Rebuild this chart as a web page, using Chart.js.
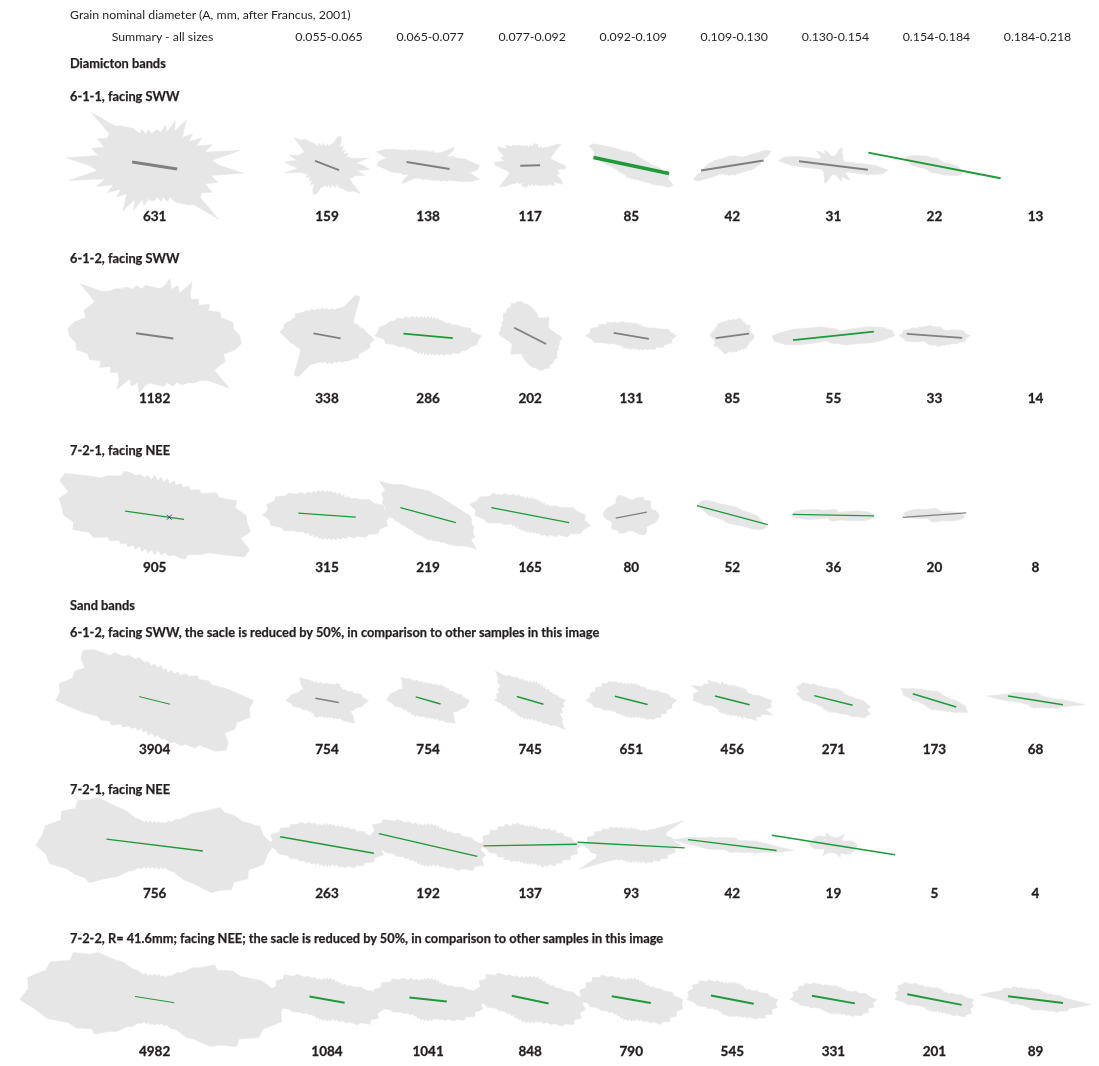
<!DOCTYPE html>
<html>
<head>
<meta charset="utf-8">
<script src="https://cdn.jsdelivr.net/npm/chart.js@4.4.1/dist/chart.umd.min.js"></script>
<style>
  html, body { margin: 0; padding: 0; background: #fff; }
  #wrap { position: relative; width: 1099px; height: 1066px; font-family: Lato, "Open Sans", sans-serif; color: #231f20; }
  #roses { position: absolute; left: 0; top: 0; }
  .t { position: absolute; white-space: nowrap; line-height: 1; transform: translateY(-50%); }
  .c { transform: translate(-50%, -50%); }
  .reg { font-size: 12.3px; }
  .bold { font-size: 12.8px; font-weight: 700; -webkit-text-stroke: 0.25px #231f20; }
  .num { font-size: 13.5px; font-weight: 700; -webkit-text-stroke: 0.3px #231f20; }
</style>
</head>
<body>
<div id="wrap">
  <canvas id="roses" width="1099" height="1066"></canvas>
</div>
<script>
// size classes (column headings)
const sizeClasses = ['Summary - all sizes', '0.055-0.065', '0.065-0.077', '0.077-0.092', '0.092-0.109',
  '0.109-0.130', '0.130-0.154', '0.154-0.184', '0.184-0.218'];

const sampleTitles = [
  '6-1-1, facing SWW',
  '6-1-2, facing SWW',
  '7-2-1, facing NEE',
  '6-1-2, facing SWW, the sacle is reduced by 50%, in comparison to other samples in this image',
  '7-2-1, facing NEE',
  '7-2-2, R= 41.6mm; facing NEE; the sacle is reduced by 50%, in comparison to other samples in this image'
];

// grain counts per size class
const counts_d611 = [631, 159, 138, 117, 85, 42, 31, 22, 13];
const counts_d612 = [1182, 338, 286, 202, 131, 85, 55, 33, 14];
const counts_d721 = [905, 315, 219, 165, 80, 52, 36, 20, 8];
const counts_s612 = [3904, 754, 754, 745, 651, 456, 271, 173, 68];
const counts_s721 = [756, 263, 192, 137, 93, 42, 19, 5, 4];
const counts_s722 = [4982, 1084, 1041, 848, 790, 545, 331, 201, 89];

// mean orientation (deg, counter-clockwise from E) and mean vector half-length
const dir_d611 = [-9, -21, -9, 2, -12, 9, -7, -11, null];
const len_d611 = [23, 13, 22, 10, 39, 32, 35, 68, null];
const dir_d612 = [-8, -10, -5, -27, -10, 8, 6, -4, null];
const len_d612 = [19, 14, 25, 18, 18, 17, 41, 28, null];
const dir_d721 = [-8, -4, -15, -11, 11, -15, -1, 4, null];
const len_d721 = [30, 29, 29, 40, 16, 37, 41, 32, null];
const dir_s612 = [-14, -10, -16, -16, -14, -14, -14, -17, -9];
const len_s612 = [16, 12, 13, 14, 17, 18, 20, 23, 28];
const dir_s721 = [-7, -10, -13, 1, -3, -7, -9, null, null];
const len_s721 = [49, 48, 51, 47, 54, 45, 63, null, null];
const dir_s722 = [-9, -10, -6, -12, -10, -11, -10, -11, -7];
const len_s722 = [20, 18, 19, 19, 20, 22, 22, 28, 28];

// 1 = significant preferred orientation
const sig_d611 = [0, 0, 0, 0, 1, 0, 0, 1, 0];
const sig_d612 = [0, 0, 1, 0, 0, 0, 1, 0, 0];
const sig_d721 = [1, 1, 1, 1, 0, 1, 1, 0, 0];
const sig_s612 = [1, 0, 1, 1, 1, 1, 1, 1, 1];
const sig_s721 = [1, 1, 1, 1, 1, 1, 1, 0, 0];
const sig_s722 = [1, 1, 1, 1, 1, 1, 1, 1, 1];

// rose petal lengths, 36 bins of 5 deg from E through N to W (axial data, mirrored)
const petals_d611 = [
  [66,58,88,52,62,46,55,42,50,40,46,56,40,50,36,42,34,36,35,32,37,33,39,35,43,47,52,56,84,56,55,64,54,66,58,90],
  [37,29,43,27,24,21,25,20,24,21,26,22,29,33,30,23,22,20,22,19,23,20,24,21,26,29,35,36,44,31,26,29,30,40,31,43],
  [52,43,38,29,27,21,29,32,23,18,17,15,16,14,16,14,15,13,15,14,16,14,17,16,18,18,21,21,25,26,31,39,47,54,43,50],
  [35,29,26,23,22,25,30,38,33,26,24,21,22,19,23,22,23,19,21,18,21,20,21,22,24,24,27,27,32,29,38,35,28,31,27,36],
  [23,19,18,15,15,13,14,11,13,11,12,11,12,11,13,12,13,12,14,13,14,14,16,15,18,19,22,25,30,35,44,47,40,39,32,29],
  [26,29,30,37,42,37,22,16,13,12,12,11,11,10,11,10,10,9,10,9,10,9,10,10,10,10,11,11,12,12,13,15,16,19,21,24],
  [42,26,18,14,12,11,12,11,13,13,15,15,18,20,17,12,10,9,10,9,10,10,13,16,18,14,16,20,22,15,14,16,22,36,50,56],
  [22,17,14,11,10,9,9,8,8,7,8,7,8,7,8,7,8,7,8,7,8,8,8,9,10,11,12,14,15,17,20,24,28,30,28,25],
  null
];
const petals_d612 = [
  [86,80,80,70,70,60,64,54,58,52,56,66,50,56,50,60,50,48,49,50,52,49,54,52,57,58,62,64,70,92,70,72,76,72,82,88],
  [44,40,38,34,33,30,31,34,38,44,52,50,34,31,29,27,28,26,28,27,29,27,29,28,31,31,33,34,36,39,37,39,42,45,44,48],
  [54,44,44,35,32,26,26,22,22,20,21,19,21,18,20,17,20,17,20,17,20,18,21,20,23,22,26,25,30,30,36,37,42,44,50,51],
  [30,26,24,22,21,20,21,23,25,27,24,22,21,20,22,24,26,28,30,32,33,36,37,36,38,35,36,34,35,33,31,32,30,31,30,32],
  [46,40,38,28,24,18,18,15,16,13,15,13,15,13,14,12,14,12,14,12,14,13,15,14,17,16,19,18,22,23,28,27,34,35,42,41],
  [22,21,19,19,18,20,21,19,18,19,18,19,18,20,19,17,16,17,16,16,16,17,16,16,17,16,18,18,19,18,18,19,18,20,21,22],
  [62,60,50,36,22,15,11,9,8,8,7,8,7,8,7,8,7,8,7,8,7,8,8,8,9,10,11,12,14,16,18,20,24,30,40,50],
  [36,31,30,23,18,13,12,11,11,10,11,10,11,10,10,9,10,9,10,9,10,10,12,11,12,11,13,13,15,15,18,18,24,26,32,32],
  null
];
const petals_d721 = [
  [92,82,84,68,66,52,52,44,45,40,42,37,40,35,39,35,39,35,40,36,41,39,44,44,50,54,52,56,62,66,80,100,102,90,98,94],
  [65,58,58,48,46,37,34,29,29,25,27,24,26,23,25,23,25,23,25,23,26,24,27,25,28,27,31,30,36,37,45,46,55,55,62,60],
  [42,36,33,30,28,26,25,24,23,22,23,22,22,22,22,22,23,24,25,25,26,27,28,30,32,36,40,44,48,60,50,52,48,48,44,44],
  [56,47,44,31,28,21,21,18,19,16,18,16,18,16,18,16,18,16,18,16,19,17,20,20,24,24,28,28,34,35,44,45,54,56,62,55],
  [28,27,25,22,21,21,23,24,23,21,20,22,21,20,19,18,16,16,16,16,17,18,20,21,23,24,23,22,20,20,21,22,24,26,27,28],
  [24,19,16,14,12,11,10,10,10,10,9,9,9,9,9,9,9,9,9,9,10,10,10,11,12,13,14,16,19,24,30,34,36,34,30,27],
  [42,36,26,14,9,7,6,6,6,6,6,6,6,6,6,6,6,6,6,6,6,6,6,6,6,6,7,7,8,9,10,12,16,22,32,40],
  [30,26,20,14,10,8,8,7,7,7,7,7,7,7,7,7,7,7,7,7,7,7,7,7,7,8,8,8,9,10,12,14,18,22,26,30],
  null
];
const petals_s612 = [
  [100,84,72,60,58,50,50,42,42,36,37,33,35,31,34,32,36,33,37,35,40,40,46,46,53,54,63,64,80,88,86,78,86,86,98,96],
  [42,36,35,28,27,22,22,19,20,18,21,20,20,17,18,16,18,16,18,17,18,17,20,19,22,22,27,30,36,33,30,26,29,30,36,38],
  [42,36,34,28,27,23,24,21,22,20,21,18,19,17,18,16,18,17,18,17,19,18,21,20,24,24,29,31,36,32,30,28,32,34,39,40],
  [36,30,28,24,24,21,22,19,20,18,20,18,20,18,20,18,20,18,20,18,21,20,23,23,27,28,33,35,46,39,38,33,35,32,35,33],
  [46,40,38,31,29,23,22,19,20,18,19,16,18,16,18,16,18,16,18,16,18,16,19,18,21,21,25,26,30,30,34,33,38,37,42,41],
  [40,32,28,21,20,17,18,16,18,16,17,15,16,14,16,14,16,14,16,14,16,15,18,17,22,19,24,26,32,29,33,33,44,35,40,39],
  [30,22,20,16,16,13,14,12,14,12,13,11,13,11,13,11,13,11,13,11,13,12,14,14,16,16,19,20,26,28,36,37,40,35,38,33],
  [22,16,15,12,12,10,11,9,10,9,10,9,10,9,10,9,10,9,10,9,10,9,11,10,12,12,14,15,18,19,25,28,36,33,32,25],
  [32,18,15,12,11,9,9,8,8,7,8,7,8,7,8,7,8,7,8,7,8,7,8,8,9,8,10,10,12,13,16,18,24,26,34,50]
];
const petals_s721 = [
  [120,110,108,92,86,78,76,58,50,37,34,28,28,24,25,23,24,22,24,22,25,23,26,25,30,33,46,55,75,80,90,88,100,98,112,114],
  [60,52,50,41,40,33,32,28,28,24,25,22,23,20,22,20,22,20,22,20,22,20,23,22,26,26,30,30,36,36,42,42,50,50,58,55],
  [56,47,44,35,34,28,27,23,24,21,22,20,22,20,22,20,22,20,22,20,22,20,23,22,26,26,31,32,40,42,52,52,60,56,59,53],
  [52,44,42,35,35,29,30,25,26,22,22,19,20,18,20,18,20,18,20,18,20,19,22,22,26,25,28,27,33,32,37,36,43,42,49,47],
  [50,43,42,36,38,58,38,28,24,20,20,17,18,16,18,16,18,16,18,16,18,16,19,18,21,20,24,24,28,27,33,33,39,38,45,44],
  [40,30,24,17,14,10,10,8,8,7,8,7,8,7,8,7,8,7,8,7,8,7,8,7,9,8,10,10,12,13,16,17,24,29,44,62],
  [24,22,20,16,12,10,10,11,13,15,12,10,9,8,8,8,8,8,8,8,8,9,10,12,14,12,11,12,14,16,18,20,20,22,22,24],
  null,
  null
];
const petals_s722 = [
  [136,120,110,90,84,70,70,56,50,38,36,29,28,25,26,24,26,24,26,24,26,25,28,28,34,37,50,57,74,80,95,94,112,114,130,128],
  [56,49,47,39,37,30,28,24,24,21,22,20,22,20,22,20,22,20,22,20,22,20,23,22,26,26,31,32,40,41,50,49,55,53,58,54],
  [58,51,49,40,37,30,28,24,24,21,22,20,22,20,22,20,22,20,22,20,22,20,22,21,24,24,28,28,34,35,42,42,50,49,56,54],
  [56,47,44,35,33,28,28,24,25,22,24,22,24,22,24,22,24,22,24,22,24,22,25,24,28,28,33,34,42,43,51,49,55,52,57,53],
  [52,44,42,34,32,27,26,22,23,20,22,20,22,20,22,20,22,20,22,20,22,20,23,22,26,26,31,32,39,39,45,43,49,47,53,51],
  [46,38,36,28,27,21,21,17,18,16,18,16,18,16,18,16,18,16,18,16,18,16,19,18,21,21,25,25,31,32,38,37,43,41,46,44],
  [44,36,34,26,25,19,18,15,16,14,15,13,15,13,15,13,15,13,15,13,15,13,16,15,18,17,21,22,27,27,33,33,38,36,42,40],
  [40,31,28,21,19,14,15,12,13,11,13,11,13,11,13,11,13,11,13,11,13,11,14,13,16,15,19,20,26,27,35,36,40,37,40,38],
  [36,27,25,18,17,13,13,11,12,10,11,10,11,10,11,10,11,10,11,10,11,10,12,11,13,12,15,15,19,20,26,27,34,35,44,56]
];

// grain marked on the 7-2-1 summary rose, distance along its mean line
const marker_d721 = { col: 0, along: 15 };

// ---- layout ----
const colX = [151, 325, 427, 530, 632, 734, 836, 938, 1040];
const rowY = [162, 334, 515, 702, 848, 1004];
const countY = [214, 398, 568, 752, 897, 1057];
const titleY = [96, 258, 450, 632, 789, 938];
const lineW = [
  [3, 2, 2, 2, 3.5, 2, 2, 2, 2],
  [1.8, 1.8, 1.8, 1.8, 1.8, 1.8, 1.8, 1.8, 1.8],
  [1.3, 1.3, 1.3, 1.3, 1.3, 1.3, 1.3, 1.3, 1.3],
  [1, 1.5, 1.5, 1.5, 1.5, 1.5, 1.5, 1.5, 1.5],
  [1.4, 1.4, 1.4, 1.4, 1.4, 1.4, 1.4, 1.4, 1.4],
  [1, 2, 2, 2, 2, 2, 2, 2, 2]
];
const ROSE_FILL = '#e6e6e6';
const GREEN = '#1f9a38';
const GREY = '#808080';
const NBIN = 36;
const BIN = 180 / NBIN;

const rows = [
  { petals: petals_d611, dir: dir_d611, len: len_d611, sig: sig_d611, counts: counts_d611 },
  { petals: petals_d612, dir: dir_d612, len: len_d612, sig: sig_d612, counts: counts_d612 },
  { petals: petals_d721, dir: dir_d721, len: len_d721, sig: sig_d721, counts: counts_d721 },
  { petals: petals_s612, dir: dir_s612, len: len_s612, sig: sig_s612, counts: counts_s612 },
  { petals: petals_s721, dir: dir_s721, len: len_s721, sig: sig_s721, counts: counts_s721 },
  { petals: petals_s722, dir: dir_s722, len: len_s722, sig: sig_s722, counts: counts_s722 }
];

// outline of an axial rose: bin k and bin k+180deg share the same petal
function rosePoints(p, cx, cy) {
  const pts = [];
  for (let k = 0; k <= 2 * NBIN; k++) {
    const a = (k % (2 * NBIN)) * BIN * Math.PI / 180;
    const r = p[k % NBIN];
    pts.push({ x: cx + r * Math.cos(a), y: cy - r * Math.sin(a) });
  }
  return pts;
}

const datasets = [];
rows.forEach((row, ri) => {
  row.petals.forEach((p, ci) => {
    if (!p) return;
    datasets.push({
      data: rosePoints(p, colX[ci], rowY[ri]),
      showLine: true, fill: 'shape',
      backgroundColor: ROSE_FILL, borderColor: ROSE_FILL, borderWidth: 0.5,
      pointRadius: 0, order: 3
    });
  });
  row.dir.forEach((d, ci) => {
    if (d === null) return;
    const a = d * Math.PI / 180, L = row.len[ci];
    const cx = colX[ci], cy = rowY[ri];
    datasets.push({
      data: [{ x: cx - L * Math.cos(a), y: cy + L * Math.sin(a) },
             { x: cx + L * Math.cos(a), y: cy - L * Math.sin(a) }],
      showLine: true, fill: false,
      borderColor: row.sig[ci] ? GREEN : GREY, borderWidth: lineW[ri][ci],
      pointRadius: 0, order: 2
    });
  });
});

// marker on the 7-2-1 summary mean line
{
  const a = dir_d721[marker_d721.col] * Math.PI / 180;
  datasets.push({
    data: [{ x: colX[marker_d721.col] + marker_d721.along * Math.cos(a),
             y: rowY[2] - marker_d721.along * Math.sin(a) }],
    pointStyle: 'crossRot', pointRadius: 3.5, borderColor: '#3b4a8f', borderWidth: 1,
    order: 1
  });
}

const chart = new Chart(document.getElementById('roses'), {
  type: 'scatter',
  data: { datasets },
  options: {
    responsive: false,
    animation: false,
    events: [],
    layout: { padding: 0 },
    scales: {
      x: { type: 'linear', min: 0, max: 1099, display: false },
      y: { type: 'linear', min: 0, max: 1066, reverse: true, display: false }
    },
    plugins: { legend: { display: false }, tooltip: { enabled: false } }
  }
});

// ---- text ----
const wrap = document.getElementById('wrap');
const X = v => chart.scales.x.getPixelForValue(v);
const Y = v => chart.scales.y.getPixelForValue(v);
function label(text, x, y, cls) {
  const el = document.createElement('div');
  el.className = 't ' + cls;
  el.textContent = text;
  el.style.left = x + 'px';
  el.style.top = y + 'px';
  wrap.appendChild(el);
}

label('Grain nominal diameter (A, mm, after Francus, 2001)', 70, 15, 'reg');
sizeClasses.forEach((s, i) => label(s, X(i === 0 ? colX[i] + 8 : colX[i] + 2), 37, 'reg c'));
label('Diamicton bands', 70, 63, 'bold');
label('Sand bands', 70, 605, 'bold');
sampleTitles.forEach((s, i) => label(s, 70, titleY[i], 'bold'));
rows.forEach((row, ri) => {
  row.counts.forEach((n, ci) => label(String(n), X(colX[ci]), Y(countY[ri]), 'num c'));
});
</script>
</body>
</html>
